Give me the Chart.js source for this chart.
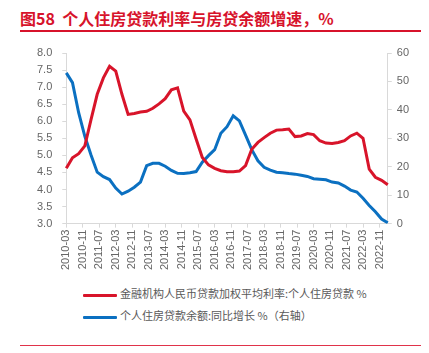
<!DOCTYPE html>
<html>
<head>
<meta charset="utf-8">
<script src="https://cdn.jsdelivr.net/npm/chart.js@4"></script>
<style>
  body { margin: 0; width: 429px; height: 353px; background: #fff; position: relative; overflow: hidden;
         font-family: "Liberation Sans", "Noto Sans CJK SC", sans-serif; }
  #titulo { position: absolute; left: 20px; top: 6px; font: bold 16px "Noto Sans CJK SC", sans-serif; color: #d7132b; white-space: pre; }
  #linea1 { position: absolute; left: 20px; top: 30px; width: 401px; height: 2px; background: #d7132b; }
  #linea2 { position: absolute; left: 20px; top: 345px; width: 401px; height: 1px; background: #e0334a; }
  #caja { position: absolute; left: 0; top: 36px; width: 429px; height: 236px; }
  #leyenda { position: absolute; left: 83px; top: 285px; font: 11px "Noto Sans CJK SC", sans-serif; color: #595959; }
  .item { height: 22px; line-height: 16px; white-space: pre; }
  .item span.l { display: inline-block; width: 34px; height: 3px; vertical-align: middle; margin-right: 3px; border-radius: 1px; }
</style>
</head>
<body>
<div id="titulo">图58  个人住房贷款利率与房贷余额增速，%</div>
<div id="linea1"></div>
<div id="caja"><canvas id="grafico" width="429" height="236"></canvas></div>
<div id="leyenda"></div>
<div id="linea2"></div>
<script>
// Eje de meses (etiquetas cada 8 meses) y datos trimestrales
const meses = [];
for (let a = 2010; a <= 2023; a++) {
    for (let m = 1; m <= 12; m++) {
        if ((a === 2010 && m < 3) || (a === 2023 && m > 3)) continue;
        meses.push(a + '-' + String(m).padStart(2, '0'));
    }
}
const trimestres = meses.filter((m, i) => i % 3 === 0);

// Tasa media ponderada de préstamos hipotecarios, %
const tasaHipoteca = [4.62, 4.93, 5.05, 5.28, 6.05, 6.79, 7.27, 7.61, 7.47, 6.79,
    6.20, 6.23, 6.27, 6.29, 6.38, 6.51, 6.66, 6.92, 6.98, 6.30,
    6.04, 5.48, 4.94, 4.72, 4.62, 4.55, 4.52, 4.52, 4.54, 4.70,
    5.18, 5.38, 5.52, 5.65, 5.74, 5.75, 5.77, 5.55, 5.57, 5.64,
    5.61, 5.43, 5.36, 5.35, 5.38, 5.43, 5.57, 5.65, 5.50, 4.60,
    4.36, 4.27, 4.14];

// Crecimiento interanual del saldo hipotecario, % (eje derecho)
const crecimientoSaldo = [53.0, 49.6, 39.0, 30.7, 24.1, 18.1, 16.5, 15.5, 12.5, 10.4,
    11.4, 12.8, 14.6, 20.4, 21.2, 21.2, 20.2, 18.7, 17.7, 17.6,
    17.9, 18.3, 21.6, 23.9, 26.0, 31.8, 34.1, 37.9, 36.1, 31.1,
    26.0, 22.1, 19.8, 18.8, 18.1, 17.9, 17.6, 17.4, 17.0, 16.6,
    15.8, 15.6, 15.4, 14.6, 14.3, 13.2, 11.8, 11.1, 8.9, 6.4,
    4.2, 1.6, 0.3];

const nombres = ['金融机构人民币贷款加权平均利率:个人住房贷款 %', '个人住房贷款余额:同比增长 %（右轴）'];
const colores = ['#d8142a', '#0b70c1'];

// Leyenda en HTML
const leyenda = document.getElementById('leyenda');
nombres.forEach((n, i) => {
    const d = document.createElement('div');
    d.className = 'item';
    d.innerHTML = '<span class="l" style="background:' + colores[i] + '"></span>' + n;
    leyenda.appendChild(d);
});

const gris = '#d9d9d9';
const fuente = { family: 'Liberation Sans', size: 11 };

new Chart(document.getElementById('grafico').getContext('2d'), {
    type: 'line',
    data: {
        labels: meses,
        datasets: [{
            label: nombres[0],
            data: trimestres.map((t, i) => ({ x: t, y: tasaHipoteca[i] })),
            borderColor: colores[0],
            borderWidth: 3,
            pointRadius: 0,
            tension: 0,
            yAxisID: 'y'
        }, {
            label: nombres[1],
            data: trimestres.map((t, i) => ({ x: t, y: crecimientoSaldo[i] })),
            borderColor: colores[1],
            borderWidth: 3,
            pointRadius: 0,
            tension: 0,
            yAxisID: 'y1'
        }]
    },
    options: {
        responsive: false,
        animation: false,
        layout: { padding: { left: 27, right: 15, top: 17, bottom: 0 } },
        plugins: { legend: { display: false }, tooltip: { enabled: false } },
        scales: {
            x: {
                offset: false,
                grid: { drawOnChartArea: false, tickLength: 4, color: gris },
                border: { color: gris },
                ticks: {
                    autoSkip: false, maxRotation: 90, minRotation: 90, padding: 2,
                    color: '#666', font: fuente,
                    callback: function(v, i) { return i % 8 === 0 ? this.getLabelForValue(v) : null; }
                }
            },
            y: {
                position: 'left', min: 3, max: 8,
                grid: { drawOnChartArea: false, tickLength: 4, color: gris },
                border: { color: gris },
                ticks: { stepSize: 0.5, padding: 10, color: '#666', font: fuente,
                         callback: v => v.toFixed(1) }
            },
            y1: {
                position: 'right', min: 0, max: 60,
                grid: { drawOnChartArea: false, tickLength: 4, color: gris },
                border: { color: gris },
                ticks: { stepSize: 10, padding: 5, color: '#666', font: fuente }
            }
        }
    }
});
</script>
</body>
</html>
